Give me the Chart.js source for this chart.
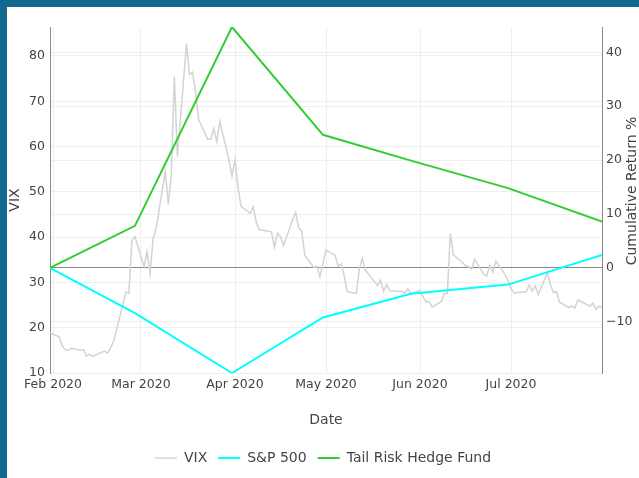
<!DOCTYPE html>
<html>
<head>
<meta charset="utf-8">
<script src="https://cdn.jsdelivr.net/npm/chart.js@4/dist/chart.umd.min.js"></script>
<style>
  html, body { margin: 0; padding: 0; background: #fff; }
  #wrap { width: 632px; height: 471px; border-top: 7px solid #10688f; border-left: 7px solid #10688f; }
</style>
</head>
<body>
<div id="wrap"><canvas id="chart" width="632" height="471"></canvas></div>
<script>
// VIX daily closes
const vixDates = [
  '2020-01-31',
  '2020-02-03','2020-02-04','2020-02-05','2020-02-06','2020-02-07','2020-02-10','2020-02-11','2020-02-12','2020-02-13','2020-02-14',
  '2020-02-18','2020-02-19','2020-02-20','2020-02-21','2020-02-24','2020-02-25','2020-02-26','2020-02-27','2020-02-28',
  '2020-03-02','2020-03-03','2020-03-04','2020-03-05','2020-03-06','2020-03-09','2020-03-10','2020-03-11','2020-03-12','2020-03-13',
  '2020-03-16','2020-03-17','2020-03-18','2020-03-19','2020-03-20','2020-03-23','2020-03-24','2020-03-25','2020-03-26','2020-03-27',
  '2020-03-30','2020-03-31',
  '2020-04-01','2020-04-02','2020-04-03','2020-04-06','2020-04-07','2020-04-08','2020-04-09','2020-04-13','2020-04-14','2020-04-15',
  '2020-04-16','2020-04-17','2020-04-20','2020-04-21','2020-04-22','2020-04-23','2020-04-24','2020-04-27','2020-04-28','2020-04-29','2020-04-30',
  '2020-05-01','2020-05-04','2020-05-05','2020-05-06','2020-05-07','2020-05-08','2020-05-11','2020-05-12','2020-05-13','2020-05-14',
  '2020-05-15','2020-05-18','2020-05-19','2020-05-20','2020-05-21','2020-05-22','2020-05-26','2020-05-27','2020-05-28','2020-05-29',
  '2020-06-01','2020-06-02','2020-06-03','2020-06-04','2020-06-05','2020-06-08','2020-06-09','2020-06-10','2020-06-11','2020-06-12',
  '2020-06-15','2020-06-16','2020-06-17','2020-06-18','2020-06-19','2020-06-22','2020-06-23','2020-06-24','2020-06-25','2020-06-26',
  '2020-06-29','2020-06-30',
  '2020-07-01','2020-07-02','2020-07-06','2020-07-07','2020-07-08','2020-07-09','2020-07-10','2020-07-13','2020-07-14','2020-07-15',
  '2020-07-16','2020-07-17','2020-07-20','2020-07-21','2020-07-22','2020-07-23','2020-07-24','2020-07-27','2020-07-28','2020-07-29',
  '2020-07-30','2020-07-31'
];
const vixValues = [
  18.84,
  17.97, 16.05, 15.15, 14.96, 15.47, 15.04, 15.18, 13.74, 14.15, 13.68,
  14.83, 14.38, 15.56, 17.08, 25.03, 27.85, 27.56, 39.16, 40.11,
  33.42, 36.82, 31.99, 39.62, 41.94, 54.46, 47.30, 53.90, 75.47, 57.83,
  82.69, 75.91, 76.45, 72.00, 66.04, 61.59, 61.67, 63.95, 61.00, 65.54,
  57.08, 53.54,
  57.06, 50.91, 46.80, 45.24, 46.70, 43.35, 41.67, 41.17, 37.76, 40.84,
  40.11, 38.15, 43.83, 45.41, 41.98, 41.38, 35.93, 33.29, 33.57, 31.23, 34.15,
  37.19, 35.97, 33.61, 34.12, 31.44, 27.98, 27.57, 33.04, 35.28, 32.61,
  31.89, 29.30, 30.53, 27.99, 29.53, 28.16, 28.01, 27.62, 28.59, 27.51,
  28.23, 26.84, 25.66, 25.81, 24.52, 25.81, 27.57, 27.57, 40.79, 36.09,
  34.40, 33.67, 33.47, 32.94, 35.12, 31.77, 31.37, 33.84, 32.22, 34.73,
  31.78, 30.43,
  28.62, 27.68, 27.94, 29.43, 28.08, 29.26, 27.29, 32.19, 29.52, 27.76,
  28.00, 25.68, 24.46, 24.84, 24.32, 26.08, 25.84, 24.74, 25.44, 24.10,
  24.76, 24.46
];

// monthly cumulative returns (%)
const monthDates = ['2020-01-31','2020-02-28','2020-03-31','2020-04-30','2020-05-29','2020-06-30','2020-07-31'];
const spReturns = [0, -8.4, -19.5, -9.2, -4.8, -3.1, 2.4];
const tailReturns = [0, 7.8, 44.7, 24.7, 19.9, 14.8, 8.6];

const tickDates = ['2020-02-01','2020-03-01','2020-04-01','2020-05-01','2020-06-01','2020-07-01'];
const tickLabels = ['Feb 2020','Mar 2020','Apr 2020','May 2020','Jun 2020','Jul 2020'];

const toDay = d => Date.parse(d) / 864e5;
const pts = (dates, vals) => dates.map((d, i) => ({ x: toDay(d), y: vals[i] }));

const FONT = 'DejaVu Sans';
const TXT = '#444';

const rightTitle = {
  id: 'rightTitle',
  afterDraw(chart) {
    const ctx = chart.ctx, a = chart.chartArea;
    ctx.save();
    ctx.translate(chart.width - 7, (a.top + a.bottom) / 2 - 9);
    ctx.rotate(-Math.PI / 2);
    ctx.font = '14px "' + FONT + '"';
    ctx.fillStyle = TXT;
    ctx.textAlign = 'center';
    ctx.textBaseline = 'middle';
    ctx.fillText('Cumulative Return %', 0, 0);
    ctx.restore();
  }
};

new Chart(document.getElementById('chart'), {
  type: 'line',
  data: {
    datasets: [
      { label: 'VIX', data: pts(vixDates, vixValues), yAxisID: 'y', borderColor: '#d3d3d3', borderWidth: 1.5, order: 2 },
      { label: 'S&P 500', data: pts(monthDates, spReturns), yAxisID: 'y2', borderColor: '#00ffff', borderWidth: 2, order: 1 },
      { label: 'Tail Risk Hedge Fund', data: pts(monthDates, tailReturns), yAxisID: 'y2', borderColor: '#32cd32', borderWidth: 2, order: 0 }
    ]
  },
  options: {
    responsive: false,
    animation: false,
    devicePixelRatio: 1,
    elements: { point: { radius: 0 }, line: { tension: 0, fill: false } },
    layout: { padding: { top: 20, bottom: 3, left: 0, right: 0 } },
    plugins: {
      tooltip: { enabled: false },
      legend: {
        position: 'bottom',
        labels: {
          usePointStyle: true, pointStyle: 'line', pointStyleWidth: 22,
          sort: (a, b) => a.datasetIndex - b.datasetIndex,
          color: TXT, font: { family: FONT, size: 14 }, padding: 11
        }
      }
    },
    scales: {
      x: {
        type: 'linear',
        min: toDay('2020-01-31'),
        max: toDay('2020-07-31'),
        afterBuildTicks: s => { s.ticks = tickDates.map(d => ({ value: toDay(d) })); },
        afterFit: s => { s.height = 67; },
        ticks: { autoSkip: false, maxRotation: 0, padding: 4, color: TXT, font: { family: FONT, size: 12.5 },
          callback: (v, i) => tickLabels[i] },
        grid: { color: '#eee', drawTicks: false },
        border: { display: false },
        title: { display: true, text: 'Date', color: TXT, font: { family: FONT, size: 14 }, padding: { top: 0, bottom: 11 } }
      },
      y: {
        position: 'left',
        min: 10, max: 86.4,
        afterFit: s => { s.width = 43; },
        ticks: { stepSize: 10, includeBounds: false, padding: 5, color: TXT, font: { family: FONT, size: 12.5 } },
        grid: { color: '#eee', drawTicks: false },
        border: { display: true, color: '#888' },
        title: { display: true, text: 'VIX', color: TXT, font: { family: FONT, size: 14 }, padding: 0 }
      },
      y2: {
        position: 'right',
        min: -19.5, max: 44.7,
        afterFit: s => { s.width = 37; },
        ticks: { stepSize: 10, includeBounds: false, padding: 4, color: TXT, font: { family: FONT, size: 12.5 },
          callback: v => v < 0 ? '\u2212' + Math.abs(v) : v },
        grid: { color: c => c.tick && c.tick.value === 0 ? '#888' : '#eee', drawTicks: false },
        border: { display: true, color: '#888' }
      }
    }
  },
  plugins: [rightTitle]
});
</script>
</body>
</html>
